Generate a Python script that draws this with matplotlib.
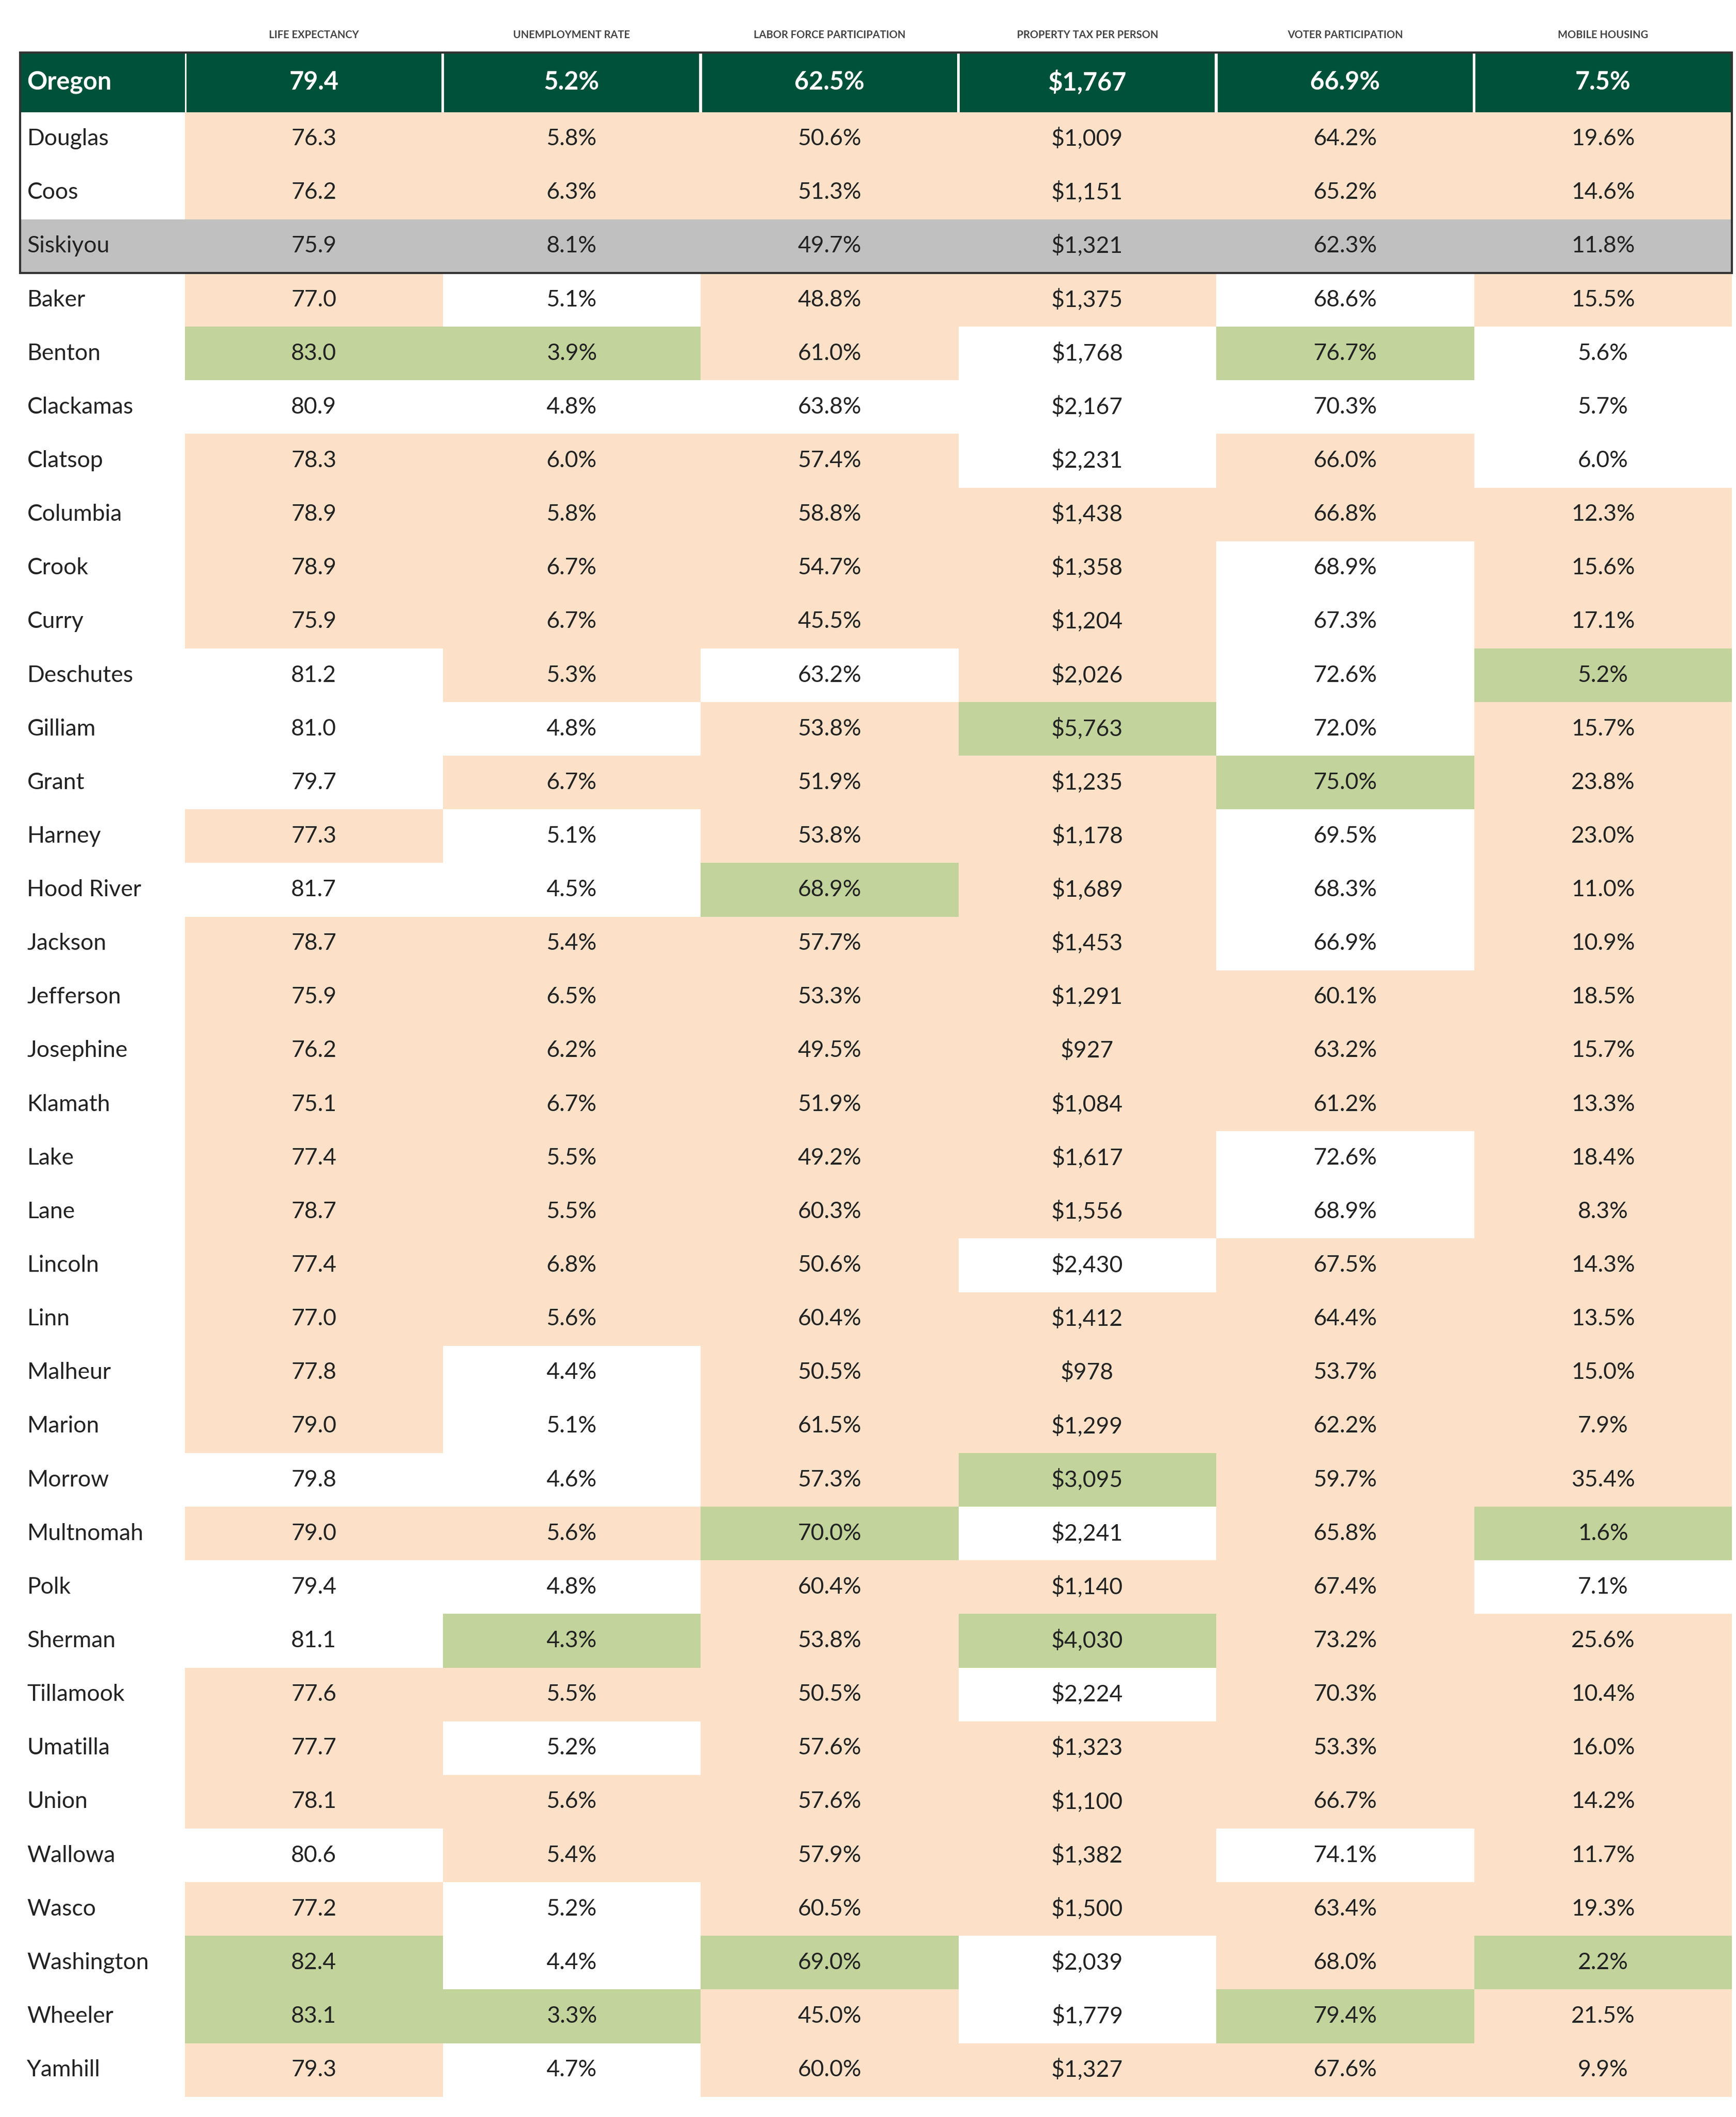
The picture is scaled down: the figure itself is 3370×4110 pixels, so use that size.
import matplotlib
matplotlib.use("Agg")
import matplotlib.pyplot as plt
from matplotlib.patches import Rectangle
plt.rcParams['font.family'] = ['Lato','DejaVu Sans']

headers = ["LIFE EXPECTANCY","UNEMPLOYMENT RATE","LABOR FORCE PARTICIPATION","PROPERTY TAX PER PERSON","VOTER PARTICIPATION","MOBILE HOUSING"]
state = ["Oregon","79.4","5.2%","62.5%","$1,767","66.9%","7.5%"]
counties = ["Douglas","Coos","Siskiyou","Baker","Benton","Clackamas","Clatsop","Columbia","Crook","Curry","Deschutes","Gilliam","Grant","Harney","Hood River","Jackson","Jefferson","Josephine","Klamath","Lake","Lane","Lincoln","Linn","Malheur","Marion","Morrow","Multnomah","Polk","Sherman","Tillamook","Umatilla","Union","Wallowa","Wasco","Washington","Wheeler","Yamhill"]
life = [76.3,76.2,75.9,77.0,83.0,80.9,78.3,78.9,78.9,75.9,81.2,81.0,79.7,77.3,81.7,78.7,75.9,76.2,75.1,77.4,78.7,77.4,77.0,77.8,79.0,79.8,79.0,79.4,81.1,77.6,77.7,78.1,80.6,77.2,82.4,83.1,79.3]
unemp = [5.8,6.3,8.1,5.1,3.9,4.8,6.0,5.8,6.7,6.7,5.3,4.8,6.7,5.1,4.5,5.4,6.5,6.2,6.7,5.5,5.5,6.8,5.6,4.4,5.1,4.6,5.6,4.8,4.3,5.5,5.2,5.6,5.4,5.2,4.4,3.3,4.7]
labor = [50.6,51.3,49.7,48.8,61.0,63.8,57.4,58.8,54.7,45.5,63.2,53.8,51.9,53.8,68.9,57.7,53.3,49.5,51.9,49.2,60.3,50.6,60.4,50.5,61.5,57.3,70.0,60.4,53.8,50.5,57.6,57.6,57.9,60.5,69.0,45.0,60.0]
proptax = [1009,1151,1321,1375,1768,2167,2231,1438,1358,1204,2026,5763,1235,1178,1689,1453,1291,927,1084,1617,1556,2430,1412,978,1299,3095,2241,1140,4030,2224,1323,1100,1382,1500,2039,1779,1327]
voter = [64.2,65.2,62.3,68.6,76.7,70.3,66.0,66.8,68.9,67.3,72.6,72.0,75.0,69.5,68.3,66.9,60.1,63.2,61.2,72.6,68.9,67.5,64.4,53.7,62.2,59.7,65.8,67.4,73.2,70.3,53.3,66.7,74.1,63.4,68.0,79.4,67.6]
mobile = [19.6,14.6,11.8,15.5,5.6,5.7,6.0,12.3,15.6,17.1,5.2,15.7,23.8,23.0,11.0,10.9,18.5,15.7,13.3,18.4,8.3,14.3,13.5,15.0,7.9,35.4,1.6,7.1,25.6,10.4,16.0,14.2,11.7,19.3,2.2,21.5,9.9]
shade = ["pppppp","pppppp","ssssss","pwppwp","ggpwgw","wwwwww","pppwpw","pppppp","ppppwp","ppppwp",
         "wpwpwg","wwpgwp","wpppgp","pwppwp","wwgpwp","ppppwp","pppppp","pppppp","pppppp","ppppwp",
         "ppppwp","pppwpp","pppppp","pwpppp","pwpppp","wwpgpp","ppgwpg","wwpppw","wgpgpp","pppwpp",
         "pwpppp","pppppp","wpppwp","pwpppp","gwgwpg","ggpwgp","pwpppp"]

colors = {"p":"#FCE1C8","g":"#C2D39B","w":"#FFFFFF","s":"#C0C0C0"}
DARK = "#00513A"

fig = plt.figure(figsize=(33.7,41.1), dpi=100)
ax = fig.add_axes([0,0,1,1])
ax.set_xlim(0,1286); ax.set_ylim(1568,0); ax.axis("off")

x0, cw, nw = 137, 191, 122
lx = 15
rh = (1553-83)/37
ytop = 83

for j,h in enumerate(headers):
    ax.text(x0+cw*j+cw/2, 26, h, ha="center", va="center", fontsize=14.5, color="#444444", fontweight="bold")

ax.add_patch(Rectangle((lx,39), nw, 44, color=DARK, lw=0))
ax.text(lx+5, 61, state[0], ha="left", va="center", fontsize=35, color="white", fontweight="bold")
for j in range(6):
    ax.add_patch(Rectangle((x0+cw*j+1,39), cw-2, 44, color=DARK, lw=0))
    ax.text(x0+cw*j+cw/2, 61, state[j+1], ha="center", va="center", fontsize=35, color="white", fontweight="bold")

cols = [[f"{v:.1f}" for v in life],[f"{v:.1f}%" for v in unemp],[f"{v:.1f}%" for v in labor],
        [f"${v:,}" for v in proptax],[f"{v:.1f}%" for v in voter],[f"{v:.1f}%" for v in mobile]]
for i,c in enumerate(counties):
    y = ytop + rh*i
    if shade[i][0] == "s":
        ax.add_patch(Rectangle((lx,y), 1283-lx, rh, color=colors["s"], lw=0))
    for j in range(6):
        ax.add_patch(Rectangle((x0+cw*j,y), cw, rh, color=colors[shade[i][j]], lw=0))
        ax.text(x0+cw*j+cw/2, y+rh/2, cols[j][i], ha="center", va="center", fontsize=32, color="#222222")
    ax.text(lx+5, y+rh/2, c, ha="left", va="center", fontsize=32, color="#222222")

ax.add_patch(Rectangle((lx,39), 1283-lx, ytop+3*rh-39, fill=False, ec="#333333", lw=3))
fig.savefig("out.png", dpi=100)
